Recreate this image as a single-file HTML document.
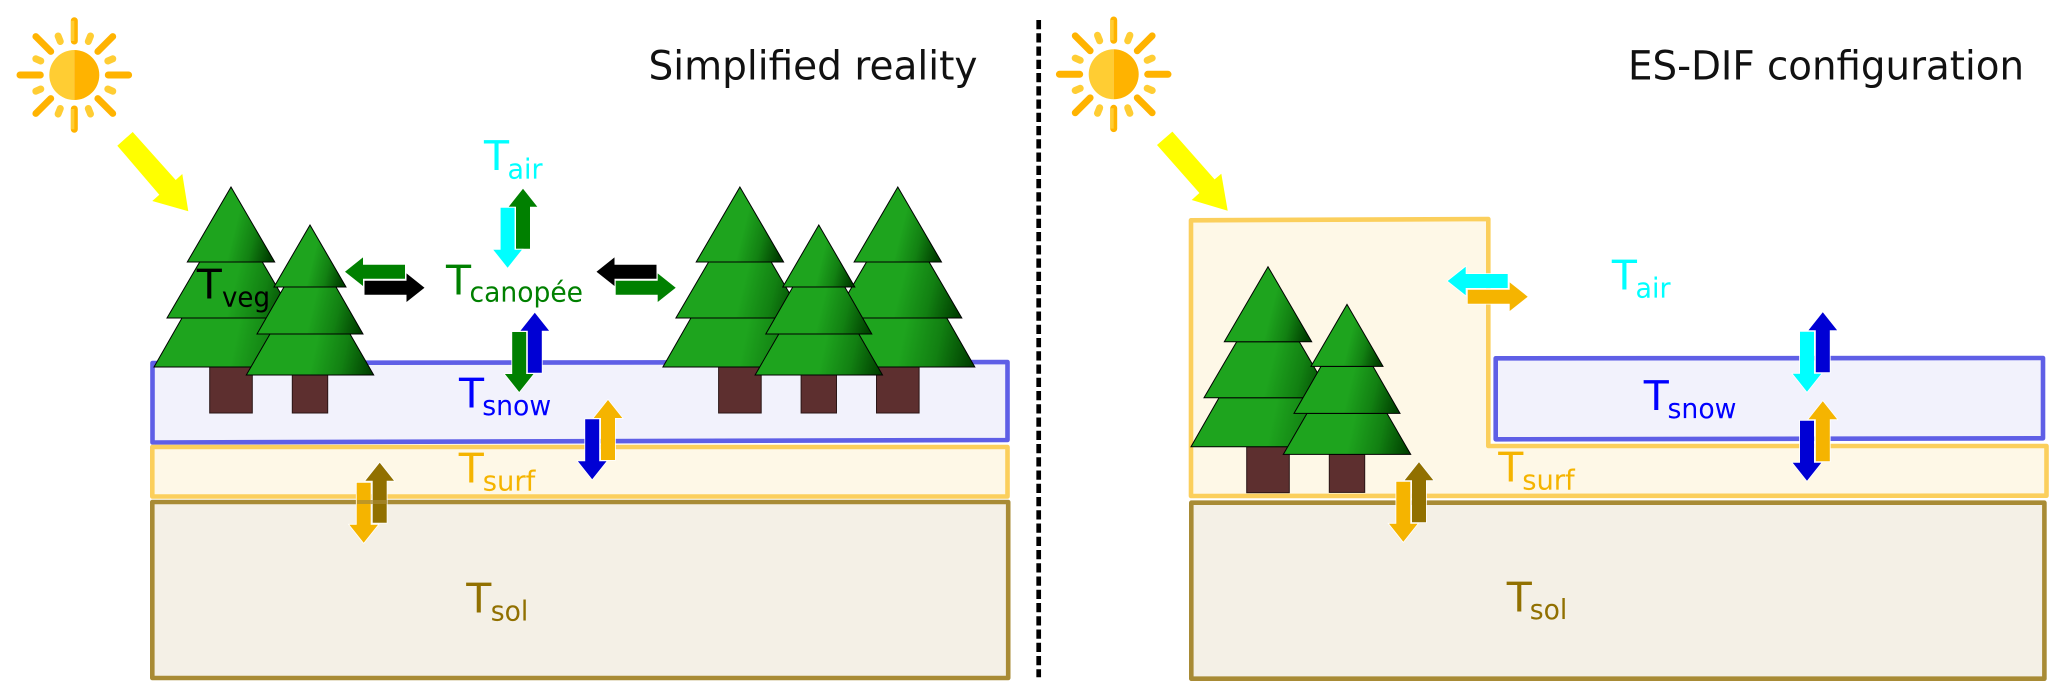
<!DOCTYPE html>
<html lang="fr">
<head>
<meta charset="utf-8">
<title>Simplified reality / ES-DIF configuration</title>
<style>
html,body{margin:0;padding:0;background:#fff}
svg{display:block}
text{font-family:"DejaVu Sans","Liberation Sans",sans-serif}
</style>
</head>
<body>
<svg width="2067" height="699" viewBox="0 0 2067 699" xmlns="http://www.w3.org/2000/svg">
<defs>
<linearGradient id="b1" gradientUnits="userSpaceOnUse" x1="4" y1="40" x2="44" y2="50"><stop offset="0" stop-color="#1ea41e"/><stop offset=".5" stop-color="#128012"/><stop offset="1" stop-color="#004000"/></linearGradient>
<linearGradient id="b2" gradientUnits="userSpaceOnUse" x1="4" y1="95" x2="64" y2="110"><stop offset="0" stop-color="#1ea41e"/><stop offset=".5" stop-color="#128012"/><stop offset="1" stop-color="#004000"/></linearGradient>
<linearGradient id="b3" gradientUnits="userSpaceOnUse" x1="6" y1="145" x2="77" y2="160"><stop offset="0" stop-color="#1ea41e"/><stop offset=".5" stop-color="#128012"/><stop offset="1" stop-color="#004000"/></linearGradient>
<linearGradient id="s1" gradientUnits="userSpaceOnUse" x1="3" y1="33" x2="36" y2="41"><stop offset="0" stop-color="#1ea41e"/><stop offset=".5" stop-color="#128012"/><stop offset="1" stop-color="#004000"/></linearGradient>
<linearGradient id="s2" gradientUnits="userSpaceOnUse" x1="3" y1="80" x2="53" y2="92"><stop offset="0" stop-color="#1ea41e"/><stop offset=".5" stop-color="#128012"/><stop offset="1" stop-color="#004000"/></linearGradient>
<linearGradient id="s3" gradientUnits="userSpaceOnUse" x1="5" y1="122" x2="63.7" y2="135"><stop offset="0" stop-color="#1ea41e"/><stop offset=".5" stop-color="#128012"/><stop offset="1" stop-color="#004000"/></linearGradient>
<polygon id="arrow" points="0,0 14.3,18 7,18 7,60 -7,60 -7,18 -14.3,18" stroke="#fff" stroke-width="1.6" paint-order="stroke"/>
<g id="big">
<rect x="-21.3" y="180" width="42.6" height="46" fill="#5d2f2f" stroke="#2a1616" stroke-width="1"/>
<polygon points="-49,131 49,131 77,180 -77,180" fill="url(#b3)" stroke="#000" stroke-width="1"/>
<polygon points="-31.3,75 31.3,75 64,131 -64,131" fill="url(#b2)" stroke="#000" stroke-width="1"/>
<polygon points="0,0 43.7,75 -43.7,75" fill="url(#b1)" stroke="#000" stroke-width="1"/>
</g>
<g id="small">
<rect x="-17.7" y="150" width="35.4" height="38" fill="#5d2f2f" stroke="#2a1616" stroke-width="1"/>
<polygon points="-40,109 40,109 63.7,150 -63.7,150" fill="url(#s3)" stroke="#000" stroke-width="1"/>
<polygon points="-26,62 26,62 53,109 -53,109" fill="url(#s2)" stroke="#000" stroke-width="1"/>
<polygon points="0,0 36,62 -36,62" fill="url(#s1)" stroke="#000" stroke-width="1"/>
</g>
<g id="sun" stroke-linecap="round" fill="none">
<g stroke="#ffb300" stroke-width="7">
<path d="M0,-54.3V-34M0,34V54.3M-54.3,0H-34M34,0H54.3"/>
</g>
<g stroke="#ffb300" stroke-width="6.8">
<path d="M-38.5,-38.5L-23.5,-23.5M38.5,-38.5L23.5,-23.5M-38.5,38.5L-23.5,23.5M38.5,38.5L23.5,23.5"/>
</g>
<g stroke="#ffcd33" stroke-width="7">
<path d="M-16.2,-39L-14,-33.5M16.2,-39L14,-33.5M-16.2,39L-14,33.5M16.2,39L14,33.5"/>
<path d="M-38.5,-16.2L-33.5,-14M38.5,-16.2L33.5,-14M-38.5,16.2L-33.5,14M38.5,16.2L33.5,14"/>
</g>
<path d="M-1.7,-54.3V-34M-1.7,34V54.3" stroke="#ffcd33" stroke-width="3.4" stroke-linecap="butt"/>
<path d="M0,-25A25,25 0 0 0 0,25Z" fill="#ffcd33"/>
<path d="M0,-25A25,25 0 0 1 0,25Z" fill="#ffb300"/>
</g>
</defs>

<rect width="2067" height="699" fill="#fff"/>

<!-- LEFT PANEL -->
<use href="#sun" transform="translate(74.3,75)"/>
<polygon points="132.7,132 117.3,145.7 159.3,194.7 152.3,201 188.3,211.3 182.3,174 175.7,180" fill="#ffff00"/>

<polygon points="152.5,363 1007.5,362 1007.5,440 152.5,442.5" fill="#f2f2fc" stroke="#5f5fe6" stroke-width="4.6" stroke-linejoin="round"/>
<rect x="152.3" y="447" width="855.2" height="49.5" fill="#fef8e7" stroke="#fbcf5c" stroke-width="4.6" stroke-linejoin="round"/>
<rect x="152.3" y="502" width="855.9" height="176" fill="#f4f0e6" stroke="#a88b35" stroke-width="4.6" stroke-linejoin="round"/>

<use href="#big" x="231" y="187"/>
<use href="#small" x="310" y="225"/>
<use href="#big" x="739.9" y="187"/>
<use href="#big" x="897.8" y="187"/>
<use href="#small" x="818.8" y="225"/>

<g font-size="41">
<text x="196.7" y="298.3" fill="#000">T</text>
<text x="484" y="170" fill="#00ffff">T</text>
<text x="446" y="294.3" fill="#008000">T</text>
<text x="459" y="407.3" fill="#0000ff">T</text>
<text x="458.8" y="482.7" fill="#f5b400">T</text>
<text x="466.3" y="612.3" fill="#917000">T</text>
</g>
<g font-size="28">
<text x="222" y="306.5" fill="#000" textLength="48" lengthAdjust="spacingAndGlyphs">veg</text>
<text x="507.5" y="178.3" fill="#00ffff" textLength="35" lengthAdjust="spacingAndGlyphs">air</text>
<text x="469.5" y="301.7" fill="#008000" textLength="113.5" lengthAdjust="spacingAndGlyphs">canopée</text>
<text x="482.2" y="415" fill="#0000ff" textLength="69" lengthAdjust="spacingAndGlyphs">snow</text>
<text x="482.8" y="490.7" fill="#f5b400" textLength="52.5" lengthAdjust="spacingAndGlyphs">surf</text>
<text x="490.8" y="620.3" fill="#917000" textLength="37.5" lengthAdjust="spacingAndGlyphs">sol</text>
</g>

<use href="#arrow" fill="#008000" transform="translate(523,188.7)"/>
<use href="#arrow" fill="#00ffff" transform="translate(507.6,267.7) rotate(180)"/>
<use href="#arrow" fill="#008000" transform="translate(345,271.7) rotate(-90)"/>
<use href="#arrow" fill="#000000" transform="translate(424.5,287.7) rotate(90)"/>
<use href="#arrow" fill="#000000" transform="translate(596.5,271.7) rotate(-90)"/>
<use href="#arrow" fill="#008000" transform="translate(675.7,287.7) rotate(90)"/>
<use href="#arrow" fill="#0000d4" transform="translate(534.8,312.7)"/>
<use href="#arrow" fill="#008000" transform="translate(519.2,392) rotate(180)"/>
<use href="#arrow" fill="#f5b400" transform="translate(608,400)"/>
<use href="#arrow" fill="#0000d4" transform="translate(592.2,479.3) rotate(180)"/>
<use href="#arrow" fill="#917000" transform="translate(379.7,462.7)"/>
<use href="#arrow" fill="#f5b400" transform="translate(363.7,542.7) rotate(180)"/>
<path d="M357,502H387" stroke="#a88b35" stroke-width="4" opacity=".7"/>

<text x="648.5" y="79.3" font-size="40" fill="#111" textLength="329" lengthAdjust="spacingAndGlyphs">Simplified reality</text>

<!-- DIVIDER -->
<path d="M1038.7,20V677.3" stroke="#000" stroke-width="4.7" stroke-dasharray="9.3 3.95" fill="none"/>

<!-- RIGHT PANEL -->
<use href="#sun" transform="translate(1113.7,74.3)"/>
<polygon points="1172.4,131.6 1157,145 1199.4,193 1191.7,200 1227.7,210.7 1221.3,173.7 1214.6,179.4" fill="#ffff00"/>

<polygon points="1191,220.3 1488.3,219 1488.3,446 2046.5,446 2046.5,495.7 1191,496" fill="#fef8e7" stroke="#fbcf5c" stroke-width="4.6" stroke-linejoin="round"/>
<polygon points="1495.7,358.3 2043,358 2043,438.3 1495.7,439.3" fill="#f2f2fc" stroke="#5f5fe6" stroke-width="4.6" stroke-linejoin="round"/>
<rect x="1191.3" y="502.7" width="853.1" height="176" fill="#f4f0e6" stroke="#a88b35" stroke-width="4.6" stroke-linejoin="round"/>

<use href="#big" x="1268" y="266.7"/>
<use href="#small" x="1347" y="304.4"/>

<g font-size="41">
<text x="1611.9" y="289.3" fill="#00ffff">T</text>
<text x="1643.8" y="410" fill="#0000ff">T</text>
<text x="1498.3" y="481.7" fill="#f5b400">T</text>
<text x="1506.8" y="611.7" fill="#917000">T</text>
</g>
<g font-size="28">
<text x="1635.5" y="297.7" fill="#00ffff" textLength="35" lengthAdjust="spacingAndGlyphs">air</text>
<text x="1667.5" y="418" fill="#0000ff" textLength="69" lengthAdjust="spacingAndGlyphs">snow</text>
<text x="1522.2" y="489.3" fill="#f5b400" textLength="52.5" lengthAdjust="spacingAndGlyphs">surf</text>
<text x="1529.8" y="619" fill="#917000" textLength="37.5" lengthAdjust="spacingAndGlyphs">sol</text>
</g>

<use href="#arrow" fill="#00ffff" transform="translate(1447.7,281) rotate(-90)"/>
<use href="#arrow" fill="#f5b400" transform="translate(1527.7,296.7) rotate(90)"/>
<use href="#arrow" fill="#0000d4" transform="translate(1822.8,312.3)"/>
<use href="#arrow" fill="#00ffff" transform="translate(1807,391.7) rotate(180)"/>
<use href="#arrow" fill="#f5b400" transform="translate(1822.8,401.3)"/>
<use href="#arrow" fill="#0000d4" transform="translate(1807,480.7) rotate(180)"/>
<use href="#arrow" fill="#917000" transform="translate(1419,462.3)"/>
<use href="#arrow" fill="#f5b400" transform="translate(1403.3,541.7) rotate(180)"/>

<text x="1628" y="79.3" font-size="40" fill="#111" textLength="396" lengthAdjust="spacingAndGlyphs">ES-DIF configuration</text>
</svg>
</body>
</html>
